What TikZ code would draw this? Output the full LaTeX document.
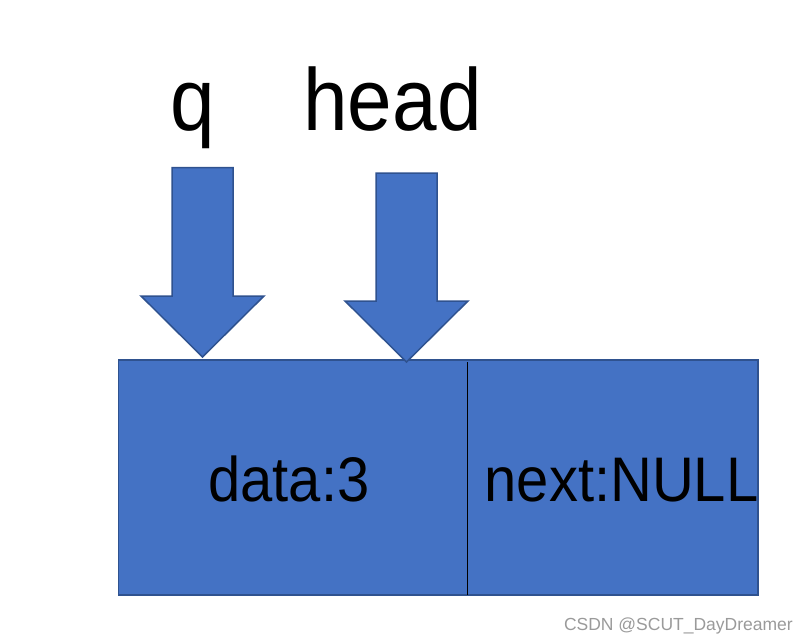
\documentclass[tikz,border=0pt]{standalone}
\usepackage{fontspec}
\setmainfont{Liberation Sans}
\definecolor{blockfill}{HTML}{4472C4}
\definecolor{blockline}{HTML}{2F528F}
\definecolor{wmgray}{HTML}{9A9A9A}
\begin{document}
\begin{tikzpicture}[x=1pt,y=-1pt,
  block/.style={fill=blockfill,draw=blockline,line width=1.5pt,line join=miter},
  bigtext/.style={anchor=base,inner sep=0pt,font=\fontsize{88}{96}\selectfont,xscale=0.91},
  celltext/.style={anchor=base,inner sep=0pt,font=\fontsize{63}{70}\selectfont,xscale=0.92},
  wm/.style={anchor=base east,inner sep=0pt,text=wmgray,font=\fontsize{17.5}{20}\selectfont}]
\useasboundingbox (0,0) rectangle (810,643);
% node box
\draw[block] (118.5,360) rectangle (758,595);
\draw[black,line width=1pt] (467.5,362) -- (467.5,595);
% arrows
\draw[block] (172,167.5) -- (233,167.5) -- (233,296) -- (264,296) -- (202.5,357) -- (141,296) -- (172,296) -- cycle;
\draw[block] (376,173) -- (437,173) -- (437,301) -- (468,301) -- (406.5,362) -- (345,301) -- (376,301) -- cycle;
% labels
\node[bigtext] (q) at (193,130) {q};
\node[bigtext] (head) at (392.5,130) {head};
\node[celltext] (data) at (289,501.7) {data:3};
\node[celltext] (next) at (621.5,501.7) {next:NULL};
\node[wm] (mark) at (793,630) {CSDN @SCUT\_DayDreamer};
\end{tikzpicture}
\end{document}
